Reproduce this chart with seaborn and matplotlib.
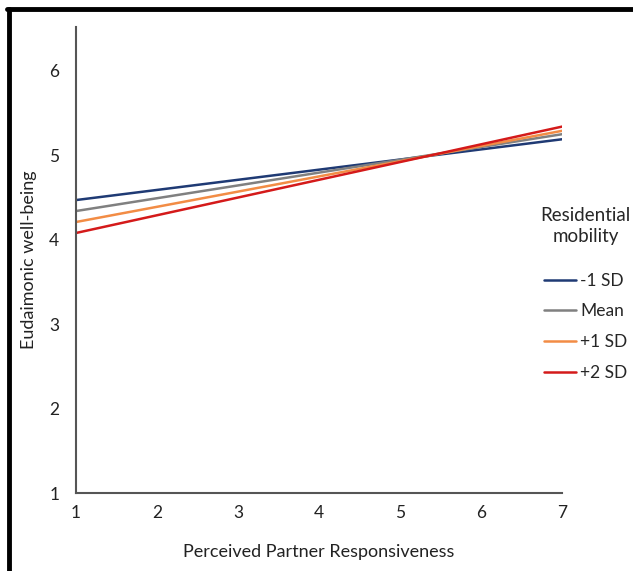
import matplotlib
matplotlib.use("Agg")
import matplotlib.pyplot as plt
from matplotlib.lines import Line2D
import numpy as np
import pandas as pd
import seaborn as sns

# simple slopes at the ends of the x range
responsiveness = [1, 7]
groups = ["-1 SD", "Mean", "+1 SD", "+2 SD"]
low_sd = [4.47, 5.19]
mean_val = [4.34, 5.25]
high_sd = [4.21, 5.29]
high2_sd = [4.08, 5.34]
colors = ["#1F3A74", "#808080", "#F28C45", "#D41A1A"]

df = pd.DataFrame({
    "x": responsiveness * 4,
    "y": low_sd + mean_val + high_sd + high2_sd,
    "group": [g for g in groups for _ in responsiveness],
})

sns.set_style("white")
plt.rcParams["font.family"] = ["Lato", "DejaVu Sans"]

fig = plt.figure(figsize=(6.33, 5.71), dpi=100)
ax = fig.add_axes([76/633, 1 - 493/571, (562 - 76)/633, (493 - 27)/571])

sns.lineplot(data=df, x="x", y="y", hue="group", hue_order=groups,
             palette=colors, linewidth=1.8, ax=ax, legend=False)

ax.set_xlim(1, 7)
ax.set_ylim(1, 6.52)
ax.set_xticks(range(1, 8))
ax.set_yticks(range(1, 7))
ax.tick_params(length=0, labelsize=12.5, colors="#222222")
ax.tick_params(axis="y", pad=12)
ax.tick_params(axis="x", pad=9)
for s in ["top", "right"]:
    ax.spines[s].set_visible(False)
for s in ["left", "bottom"]:
    ax.spines[s].set_color("#555555")
    ax.spines[s].set_linewidth(1.5)

ax.set_xlabel("Perceived Partner Responsiveness", fontsize=13, labelpad=16, color="#222222")
ax.set_ylabel("Eudaimonic well-being", fontsize=13, labelpad=9, color="#222222")

handles = [Line2D([0], [0], color=c, lw=1.8) for c in colors]
leg = ax.legend(handles, groups, title="Residential\nmobility",
                loc="upper left", bbox_to_anchor=(525/633, 1 - 191/571),
                bbox_transform=fig.transFigure, frameon=False,
                fontsize=12.5, title_fontsize=13.5, handlelength=1.8,
                handletextpad=0.25, labelspacing=0.85)
leg._legend_box.align = "center"
leg._legend_box.sep = 20
leg.get_title().set_multialignment("center")
leg.get_title().set_linespacing(1.3)

# frame around the figure (top and left edges)
fig.add_artist(Line2D([8.5/633, 8.5/633], [0, 1 - 8.5/571], color="black", lw=3.5,
                      transform=fig.transFigure))
fig.add_artist(Line2D([7/633, 1], [1 - 8.5/571, 1 - 8.5/571], color="black", lw=3.5,
                      transform=fig.transFigure))

fig.savefig("out.png", dpi=100)
